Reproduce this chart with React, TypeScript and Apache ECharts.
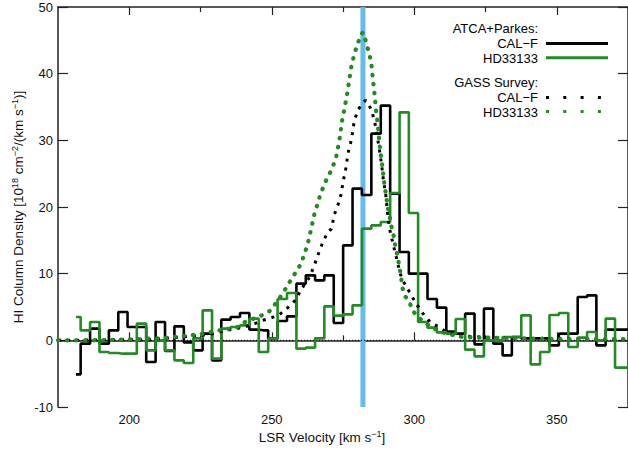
import React, { useEffect, useRef } from "react";
import * as echarts from "echarts";

// ATCA+Parkes channel velocities (km/s)
const atcaVelocity = [
  181.3, 184.6, 187.9, 191.2, 194.5, 197.8, 201.0, 204.3, 207.6, 210.9,
  214.2, 217.5, 220.8, 224.1, 227.4, 230.7, 233.9, 237.2, 240.5, 243.8,
  247.1, 250.4, 253.7, 257.0, 260.3, 263.6, 266.8, 270.1, 273.4, 276.7,
  280.0, 283.3, 286.6, 289.9, 293.2, 296.5, 299.7, 303.0, 306.3, 309.6,
  312.9, 316.2, 319.5, 322.8, 326.1, 329.4, 332.6, 335.9, 339.2, 342.5,
  345.8, 349.1, 352.4, 355.7, 359.0, 362.3, 365.5, 368.8, 372.1, 375.4,
];
// ATCA+Parkes CAL-F
const atcaCalF = [
  -5.1, -0.5, 1.75, -0.5, 1.5, 4.25, 2.0, 2.0, -3.25, 2.75,
  -1.6, 2.1, -0.3, -1.5, 1.0, -3.0, 3.1, 3.5, 4.1, 1.6,
  1.5, 0.25, 2.9, 3.6, 8.5, 9.75, 9.0, 9.75, 2.6, 14.25,
  22.75, 21.8, 31.0, 35.2, 22.0, 13.25, 10.0, 10.0, 6.2, 4.9,
  1.3, 1.0, 4.0, -0.6, 4.75, -0.5, -2.25, 0.5, 0.3, 0.3,
  0.3, -0.75, 1.0, 1.0, 6.5, 6.75, -0.75, 1.6, 1.6, 1.6,
];
// ATCA+Parkes HD33133
const atcaHD33133 = [
  3.5, 1.5, 2.75, -1.75, -1.9, -2.0, -2.0, 2.5, -1.5, 0.0,
  -1.5, -3.0, -3.4, 0.3, 4.5, -2.75, 1.75, 2.0, 2.25, 3.25,
  -1.75, 0.25, 6.2, 7.1, -1.25, -1.1, 0.3, 5.1, 3.7, 3.9,
  5.25, 16.75, 17.25, 17.75, 22.1, 34.2, 19.1, 2.75, 1.9, 1.2,
  1.0, 3.2, -1.4, -2.4, 0.0, 0.0, 0.5, 0.5, 3.75, -3.6,
  -1.75, 3.8, 4.1, -1.0, 0.4, 1.25, 0.0, 3.25, -4.1, -4.1,
];

// GASS Survey HD33133
const gassHDVelocity = [
  175.0, 189.7, 210.7, 224.7, 231.7, 235.2, 238.0, 241.2, 244.0, 246.5,
  249.3, 251.7, 253.8, 255.6, 257.3, 259.1, 260.5, 261.5, 262.6, 263.6,
  265.0, 266.8, 268.5, 270.3, 271.4, 272.6, 273.8, 274.7, 275.5, 276.4,
  277.1, 277.9, 279.0, 280.2, 281.1, 282.0, 283.1, 284.0, 284.9, 285.4,
  286.0, 286.6, 287.2, 287.8, 288.4, 288.9, 289.5, 290.1, 290.7, 291.3,
  291.9, 292.7, 293.4, 294.2, 294.8, 295.4, 295.8, 296.5, 298.3, 299.4,
  301.2, 303.5, 305.9, 308.2, 310.6, 314.1, 316.9, 322.8, 336.8, 350.8,
  364.8, 375.4,
];
const gassHD33133 = [
  0.0, 0.0, 0.3, 0.9, 1.5, 1.75, 2.0, 2.9, 3.3, 3.75,
  4.4, 5.7, 7.0, 8.25, 9.5, 10.6, 11.75, 13.0, 14.4, 16.3,
  19.0, 21.5, 23.5, 25.0, 26.0, 27.5, 30.2, 33.0, 34.7, 36.8,
  38.8, 41.0, 43.0, 44.5, 45.7, 46.2, 44.75, 43.25, 41.75, 39.5,
  37.25, 34.5, 32.5, 29.5, 27.5, 25.75, 23.5, 21.75, 20.0, 18.75,
  17.25, 15.9, 14.0, 12.5, 11.0, 9.5, 8.0, 6.8, 5.75, 4.5,
  3.5, 2.75, 2.0, 1.5, 1.1, 0.75, 0.5, 0.4, 0.3, 0.2,
  0.2, 0.2,
];

// GASS Survey CAL-F
const gassCalFVelocity = [
  175.0, 207.2, 225.3, 229.3, 234.2, 237.7, 241.2, 244.0, 246.8, 250.0,
  252.8, 255.9, 258.7, 260.1, 263.3, 264.7, 266.8, 268.2, 269.7, 270.9,
  272.0, 273.2, 274.4, 274.9, 276.1, 276.7, 277.9, 279.0, 280.2, 281.5,
  282.9, 283.9, 285.0, 286.0, 286.7, 287.8, 288.5, 289.2, 290.1, 290.7,
  291.3, 292.0, 293.4, 294.8, 295.8, 297.1, 298.3, 300.0, 301.8, 303.5,
  305.9, 308.8, 311.1, 315.1, 322.8, 336.8, 350.8, 375.4,
];
const gassCalF = [
  0.0, 0.1, 0.75, 1.0, 1.5, 1.75, 2.1, 2.5, 3.0, 3.4,
  3.9, 5.0, 6.2, 7.5, 9.5, 11.0, 13.5, 15.0, 16.25, 16.7,
  18.9, 20.25, 22.0, 23.5, 26.0, 28.0, 30.0, 33.0, 34.5, 35.4,
  36.0, 35.5, 34.5, 33.0, 31.5, 28.5, 26.5, 24.0, 21.5, 18.75,
  16.8, 15.5, 13.0, 10.5, 9.0, 8.25, 7.25, 6.0, 4.75, 3.75,
  2.6, 2.0, 1.25, 0.75, 0.5, 0.3, 0.2, 0.1,
];

const xMajorTicks = [200, 250, 300, 350];
const xMinorTicks = [225, 275, 325];
const markerVelocity = 282;

const FONT = '"Liberation Sans", Arial, Helvetica, sans-serif';
const GREEN = "#238B23";
const BLUE = "#65BBEA";
const AXIS = "#222";

const zip = (xs: number[], ys: number[]) => xs.map((x, i) => [x, ys[i]]);

export default function App() {
  const ref = useRef<HTMLDivElement>(null);

  useEffect(() => {
    if (!ref.current) return;
    const chart = echarts.init(ref.current, undefined, { renderer: "svg" });

    const grid = { left: 58, top: 7, width: 571, height: 400 };
    const axisLine = { show: true, lineStyle: { color: AXIS, width: 1.5 } };
    const tickStyle = { color: AXIS, width: 1.2 };

    const xBase = (position: "bottom" | "top", ticks: number[], len: number, labels: boolean, line: boolean) => ({
      type: "value",
      min: 175,
      max: 375,
      position,
      axisLine: line ? axisLine : { show: false },
      axisTick: { show: true, inside: true, length: len, customValues: ticks, lineStyle: tickStyle },
      axisLabel: labels
        ? { show: true, customValues: xMajorTicks, fontSize: 13, fontFamily: FONT, color: "#111", margin: 6 }
        : { show: false },
      splitLine: { show: false },
    });

    const yBase = (position: "left" | "right", labels: boolean) => ({
      type: "value",
      min: -10,
      max: 50,
      interval: 10,
      position,
      axisLine,
      axisTick: { show: true, inside: true, length: 10, lineStyle: tickStyle },
      axisLabel: labels
        ? { show: true, fontSize: 13, fontFamily: FONT, color: "#111", margin: 5 }
        : { show: false },
      splitLine: { show: false },
    });

    const legendText = (text: string, y: number) => ({
      type: "text",
      style: {
        text,
        x: 538,
        y,
        fill: "#000",
        fontSize: 13,
        lineHeight: 12,
        fontFamily: FONT,
        align: "right",
        textAlign: "right",
        verticalAlign: "middle",
        textVerticalAlign: "middle",
      },
    });
    const legendLine = (y: number, color: string, dash?: number[]) => ({
      type: "line",
      shape: { x1: 546, y1: y, x2: 608, y2: y },
      style: { stroke: color, lineWidth: 3, lineDash: dash, lineCap: "butt" },
    });

    const supRich = {
      sup: { fontSize: 9, fontFamily: FONT, fill: "#111", color: "#111", padding: [0, 0, 7, 0] },
    };

    chart.setOption({
      animation: false,
      backgroundColor: "#fff",
      grid,
      xAxis: [
        xBase("bottom", xMajorTicks, 8, true, true),
        xBase("bottom", xMinorTicks, 5, false, false),
        xBase("top", xMajorTicks, 8, false, true),
        xBase("top", xMinorTicks, 5, false, false),
      ],
      yAxis: [yBase("left", true), yBase("right", false)],
      series: [
        {
          name: "marker",
          type: "line",
          data: [[markerVelocity, -10], [markerVelocity, 50]],
          symbol: "none",
          silent: true,
          lineStyle: { color: BLUE, width: 5 },
          z: 1,
        },
        {
          name: "zero",
          type: "line",
          data: [[175, 0], [375, 0]],
          symbol: "none",
          silent: true,
          lineStyle: { color: "#000", width: 1, type: [1, 2] },
          z: 2,
        },
        {
          name: "ATCA+Parkes CAL-F",
          type: "line",
          step: "middle",
          data: zip(atcaVelocity, atcaCalF),
          symbol: "none",
          lineStyle: { color: "#000", width: 2.6 },
          z: 3,
        },
        {
          name: "ATCA+Parkes HD33133",
          type: "line",
          step: "middle",
          data: zip(atcaVelocity, atcaHD33133),
          symbol: "none",
          lineStyle: { color: GREEN, width: 2.6 },
          z: 4,
        },
        {
          name: "GASS CAL-F",
          type: "line",
          data: zip(gassCalFVelocity, gassCalF),
          symbol: "none",
          lineStyle: { color: "#000", width: 3, type: [3, 6], cap: "butt" },
          z: 5,
        },
        {
          name: "GASS HD33133",
          type: "line",
          data: zip(gassHDVelocity, gassHD33133),
          symbol: "none",
          lineStyle: { color: GREEN, width: 4.2, type: [0.5, 8.5], cap: "round" },
          z: 6,
        },
      ],
      graphic: [
        legendText("ATCA+Parkes:", 28.3),
        legendText("CAL\u2212F", 43.3),
        legendText("HD33133", 58.1),
        legendText("GASS Survey:", 82.4),
        legendText("CAL\u2212F", 97.4),
        legendText("HD33133", 112.2),
        legendLine(43.5, "#000"),
        legendLine(57.8, GREEN),
        legendLine(97.5, "#000", [3, 14.3]),
        legendLine(111.5, GREEN, [3, 14.3]),
        {
          type: "text",
          x: 322,
          y: 437,
          style: {
            text: "LSR Velocity [km s{sup|\u22121}]",
            rich: supRich,
            fill: "#111",
            fontSize: 13.5,
            fontFamily: FONT,
            align: "center",
            textAlign: "center",
            verticalAlign: "middle",
            textVerticalAlign: "middle",
          },
        },
        {
          type: "text",
          x: 18,
          y: 207,
          rotation: Math.PI / 2,
          style: {
            text: "HI Column Density [10{sup|18} cm{sup|\u22122}/(km s{sup|\u22121})]",
            rich: supRich,
            fill: "#111",
            fontSize: 13.5,
            fontFamily: FONT,
            align: "center",
            textAlign: "center",
            verticalAlign: "middle",
            textVerticalAlign: "middle",
          },
        },
      ],
    });

    return () => chart.dispose();
  }, []);

  return (
    <div
      ref={ref}
      style={{ position: "fixed", left: 0, top: 0, width: 628, height: 450, background: "#fff" }}
    />
  );
}
